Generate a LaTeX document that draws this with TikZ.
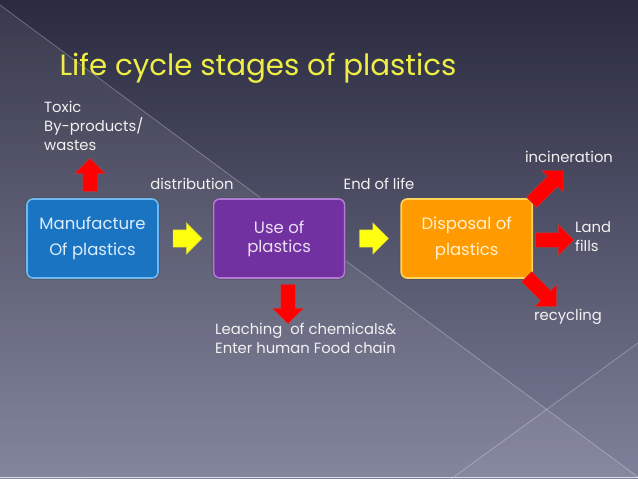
\documentclass[tikz,border=0pt]{standalone}
\usepackage{fontspec}
\setmainfont{Poppins}
\usetikzlibrary{shapes.arrows,positioning}
\definecolor{bgtop}{HTML}{2A2B3F}
\definecolor{bgmid}{HTML}{3E4059}
\definecolor{bgbot}{HTML}{7B7D97}
\definecolor{titleyel}{HTML}{EEEE44}
\definecolor{manublue}{HTML}{1B74C2}
\definecolor{manuedge}{HTML}{6DBAF2}
\definecolor{usepurple}{HTML}{7131A0}
\definecolor{useedge}{HTML}{B07AD6}
\definecolor{disporange}{HTML}{FF9A00}
\definecolor{dispedge}{HTML}{FFD45A}
\definecolor{arrowred}{HTML}{FF0000}
\definecolor{arrowyel}{HTML}{FFFF10}
\definecolor{lbltext}{HTML}{F2F2F2}

\begin{document}
\begin{tikzpicture}[x=1pt,y=-1pt,
  lbl/.style={text=lbltext,font=\fontsize{14.8}{19}\selectfont,inner sep=0pt},
  stagebox/.style={rounded corners=6pt,line width=1.6pt,minimum width=131pt,
    minimum height=79pt,align=center,font=\fontsize{16.5}{26}\selectfont,inner sep=0pt,
    preaction={draw=black!70,line width=3.4pt,opacity=.6}},
  yarrow/.style={single arrow,fill=arrowyel,draw=arrowyel!60!gray,line width=.4pt,
    inner sep=8.5pt,single arrow head extend=7pt,minimum height=29pt},
  rarrow/.style={single arrow,fill=arrowred,draw=arrowred!55!gray,line width=.4pt,
    inner sep=7pt,single arrow head extend=8pt,minimum height=#1},
  rarrow/.default=38pt]
\useasboundingbox (0,0) rectangle (638,479);
% slide background with its two light diagonals
\shade[top color=bgtop,middle color=bgmid,bottom color=bgbot] (0,0) rectangle (638,479);
\fill[white,opacity=.07] (0,5) -- (638,477) -- (0,479) -- cycle;
\fill[white,opacity=.03] (451,479) -- (638,343) -- (638,479) -- cycle;
\draw[white,opacity=.3,line width=.7pt] (0,5) -- (638,477);
\draw[white,opacity=.3,line width=.7pt] (451,479) -- (638,343);
\draw[white!75!bgbot,line width=1.6pt] (0,477.5) -- (638,477.5);
\node[text=titleyel,font=\fontsize{29.3}{34}\selectfont,inner sep=0pt] (title) at (258,68)
  {Life cycle stages of plastics};
% the three stages
\node[stagebox,fill=manublue,draw=manuedge,text=manuedge!25!white] (manu) at (92.5,238.5)
  {Manufacture\\Of plastics};
\node[stagebox,fill=usepurple,draw=useedge,text=useedge!25!white,right=54pt of manu,
  font=\fontsize{16.5}{19}\selectfont] (use) {Use of\\plastics};
\node[stagebox,fill=disporange,draw=dispedge,text=dispedge!30!white,right=55pt of use] (disp)
  {Disposal of\\plastics};
% yellow flow arrows
\node[yarrow,right=14pt of manu] (flowa) {};
\node[yarrow,right=14pt of use] (flowb) {};
\node[lbl] (distr) at (192,184) {distribution};
\node[lbl] (endlife) at (379,184) {End of life};
% red outputs
\node[rarrow=33pt,rotate=90] (toxarrow) at (90,178.5) {};
\node[lbl,anchor=north west,align=left] (toxic) at (44,101) {Toxic\\By-products/\\wastes};
\node[rarrow=39pt,rotate=-90] (leacharrow) at (288,300.5) {};
\node[lbl,anchor=north west,align=left] (leach) at (215,323)
  {Leaching\ \ of chemicals\&\\Enter human Food chain};
\node[rarrow=45pt,rotate=45] (incarrow) at (545,189) {};
\node[rarrow=38pt] (landarrow) at (551,240) {};
\node[rarrow=42pt,rotate=-45] (recarrow) at (539,289) {};
\node[lbl] (incin) at (569,157) {incineration};
\node[lbl,anchor=west,align=left] (land) at (575,237) {Land\\fills};
\node[lbl] (recyc) at (568,317) {recycling};
\end{tikzpicture}
\end{document}
